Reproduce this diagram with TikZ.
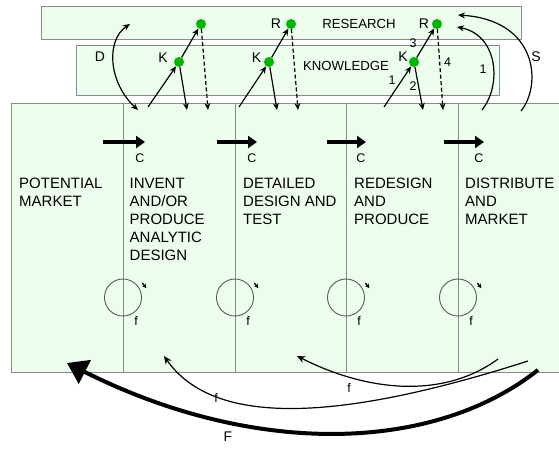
\documentclass[tikz,border=0pt]{standalone}
\usepackage{fontspec}
\setmainfont{Liberation Sans}
\usetikzlibrary{arrows.meta,positioning}
\definecolor{bandfill}{RGB}{237,253,237}
\definecolor{bandline}{RGB}{138,138,138}
\definecolor{dotfill}{RGB}{0,180,0}

\begin{document}
\begin{tikzpicture}[
  x=1pt, y=-1pt,
  >=Stealth,
  band/.style={draw=bandline, fill=bandfill, line width=0.9pt, anchor=north west, inner sep=0pt},
  stage/.style={align=left, anchor=north west, inner sep=0pt, font=\fontsize{15}{18}\selectfont},
  title/.style={font=\fontsize{13.2}{15}\selectfont, inner sep=1pt},
  big/.style={font=\fontsize{14}{15}\selectfont, inner sep=1pt},
  small/.style={font=\fontsize{12.5}{13}\selectfont, inner sep=1pt},
  dot/.style={circle, fill=dotfill, inner sep=0pt, minimum size=10pt},
  link/.style={draw, -{Stealth[length=7pt,width=6pt]}, line width=1.2pt},
  twolink/.style={draw, {Stealth[length=7pt,width=6pt]}-{Stealth[length=7pt,width=6pt]}, line width=1.2pt},
  dashlink/.style={link, dash pattern=on 4pt off 2.5pt},
  chain/.style={draw, -{Triangle[length=9pt,width=12pt]}, line width=3.5pt},
  ring/.style={circle, draw=black!65, line width=0.9pt, minimum size=37pt, inner sep=0pt},
  feed/.style={draw, -{Stealth[length=8pt,width=7pt]}, line width=1.2pt}
]

\useasboundingbox (0,0) rectangle (559,448);

% bands
\node[band, minimum width=480pt, minimum height=33pt] (research) at (41,6) {};
\node[band, minimum width=423pt, minimum height=50pt] (knowledge) at (76,45) {};
\node[band, minimum width=570pt, minimum height=269pt] (chainbox) at (11,103) {};
\node[title] (restext) at (359,24) {RESEARCH};
\node[title] (knowtext) at (346,66) {KNOWLEDGE};

\foreach \x in {123,235,346,458}
  \draw[bandline, line width=0.8pt] (\x,103) -- (\x,372);

% stages of the chain
\node[stage] (market) at (19,178) {POTENTIAL\\MARKET};
\node[stage] (invent) at (129.5,178) {INVENT\\AND/OR\\PRODUCE\\ANALYTIC\\DESIGN};
\node[stage] (detail) at (243,178) {DETAILED\\DESIGN AND\\TEST};
\node[stage] (redesign) at (354,178) {REDESIGN\\AND\\PRODUCE};
\node[stage] (distrib) at (465,178) {DISTRIBUTE\\AND\\MARKET};

\foreach \x/\a/\b [count=\i] in {123/103/145, 235/217/257, 346/327/366, 458/444/484} {
  \coordinate (cs\i) at (\a,142);
  \coordinate (ce\i) at (\b,142);
  \draw[chain] (cs\i) -- (ce\i);
  \node[small] (c\i) at (\b-5,158) {C};
  \node[ring] (ring\i) at (\x,297.5) {};
  \draw[-{Stealth[length=4.5pt,width=4.5pt]}, line width=1.3pt] ([shift={(6,-1)}]ring\i.45) -- ++(4,5);
  \node[small] (f\i) at (\x+13,321) {f};
}

% research / knowledge nodes
\node[dot] (r1) at (201,24) {};
\node[dot] (r2) at (291,24) {};
\node[dot] (r3) at (437,24) {};
\node[dot] (k1) at (179,62) {};
\node[dot] (k2) at (269,62) {};
\node[dot] (k3) at (414,62) {};
\node[big, left=5pt of k1, yshift=4pt] (k1l) {K};
\node[big, left=1.3pt of k2, yshift=4pt] (k2l) {K};
\node[big, left=0pt of k3, yshift=5pt] (k3l) {K};
\node[big, left=3.5pt of r2] (r2l) {R};
\node[big, left=1.5pt of r3] (r3l) {R};

\coordinate (a1) at (148,107); \coordinate (b1) at (187,110); \coordinate (e1) at (208,110);
\coordinate (a2) at (239,107); \coordinate (b2) at (277,110); \coordinate (e2) at (298,110);
\coordinate (a3) at (384,107); \coordinate (b3) at (423,110); \coordinate (e3) at (443,110);

\foreach \i in {1,2,3} {
  \draw[link] (a\i) -- (k\i);
  \draw[link] (k\i) -- (r\i);
  \draw[link] (k\i) -- (b\i);
  \draw[dashlink] (r\i) -- (e\i);
}
\node[small] (n1) at (392,80) {1};
\node[small] (n2) at (413,86) {2};
\node[small] (n3) at (413,43) {3};
\node[small] (n4) at (447.5,62) {4};

% D and S links
\coordinate (dlow) at (138,110);
\coordinate (dhigh) at (130,24);
\draw[twolink] (dlow) .. controls (108,82) and (106,40) .. (dhigh);
\node[big] (dlab) at (100,57) {D};

\coordinate (u1) at (482,110);
\coordinate (u2) at (457,27);
\draw[link] (u1) .. controls (502,85) and (498,35) .. (u2);
\node[small] (n5) at (483,69.5) {1};

\coordinate (s1) at (521,111);
\coordinate (s2) at (458,15);
\draw[link] (s1) .. controls (542,85) and (538,20) .. (s2);
\node[big] (slab) at (536,57) {S};

% feedback
\coordinate (g1) at (498,359);
\coordinate (g2) at (297,356);
\draw[feed] (g1) .. controls (445,398) and (370,393) .. (g2);
\node[small] (fl1) at (349,388) {f};

\coordinate (h1) at (528,361);
\coordinate (h2) at (164,356);
\draw[feed] (h1) .. controls (330,424.5) and (212,424.5) .. (h2);
\node[small] (fl2) at (216,398) {f};

\coordinate (m1) at (538,370);
\coordinate (m2) at (67,363);
\draw[line width=4pt, -{Triangle[length=20pt,width=26pt]}] (m1) .. controls (430,455) and (250,455) .. (m2);
\node[big] (flab) at (228,437) {F};

\end{tikzpicture}
\end{document}
